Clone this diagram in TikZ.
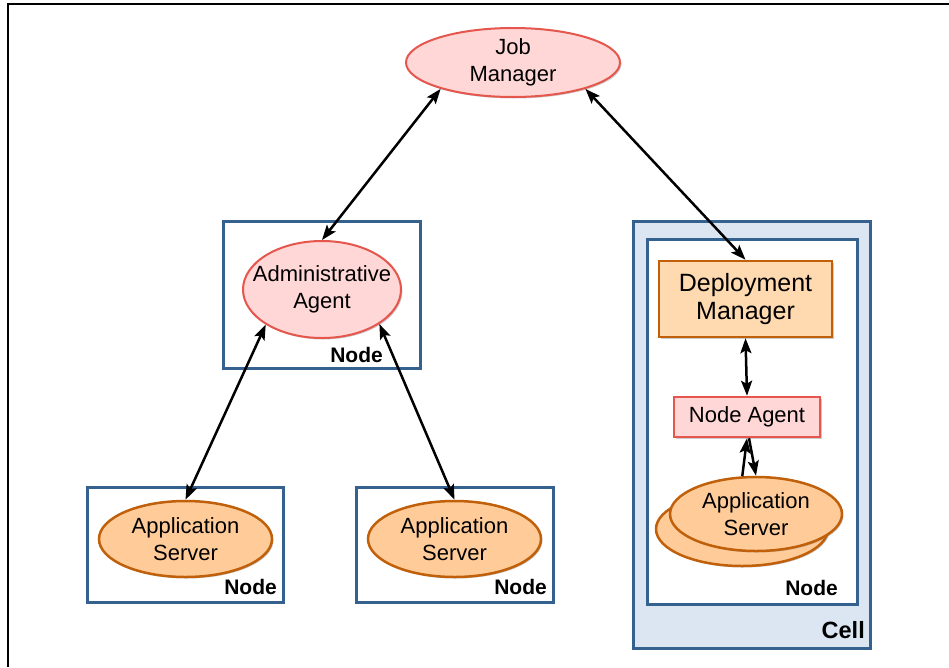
\documentclass[tikz,border=0pt]{standalone}
\usepackage{fontspec}
\setmainfont{Liberation Sans}
\usetikzlibrary{arrows.meta,shadows,shapes.geometric}
\definecolor{pinkfill}{HTML}{FFD7D7}
\definecolor{redline}{HTML}{E5564C}
\definecolor{orangefill}{HTML}{FFCC99}
\definecolor{dmfill}{HTML}{FFD9B0}
\definecolor{orangeline}{HTML}{C0600A}
\definecolor{blueline}{HTML}{35618F}
\definecolor{cellfill}{HTML}{DCE6F2}
\tikzset{
  shad/.style={drop shadow={shadow xshift=1.5pt,shadow yshift=-1.5pt,opacity=0.4}},
  nodebox/.style={draw=blueline,line width=3pt,fill=white,rectangle,inner sep=0pt,shad},
  cellbox/.style={draw=blueline,line width=3pt,fill=cellfill,rectangle,inner sep=0pt,shad},
  pinkell/.style={ellipse,draw=redline,line width=2pt,fill=pinkfill,inner sep=0pt,shad},
  orell/.style={ellipse,draw=orangeline,line width=2.5pt,fill=orangefill,inner sep=0pt,shad},
  txt/.style={align=center,font=\fontsize{22}{26.5}\selectfont,inner sep=0pt},
  nodelbl/.style={font=\fontsize{21}{24}\selectfont\bfseries,inner sep=0pt,anchor=east},
  tip/.tip={Stealth[length=15pt,width=11pt,inset=3pt]},
  biarrow/.style={line width=2.5pt,tip-tip},
  onearrow/.style={line width=2.5pt,-tip},
}
\begin{document}
\begin{tikzpicture}[x=1pt,y=-1pt]
\useasboundingbox (0,0) rectangle (949,667);
\fill[white] (0,0) rectangle (949,667);
% frame
\draw[line width=1.5pt] (949,4) -- (8,4) -- (8,667);

% boxes
\node[nodebox,minimum width=197pt,minimum height=147pt] (nbadmin) at (321.5,294.5) {};
\node[nodebox,minimum width=196pt,minimum height=115pt] (nbleft) at (185,544.5) {};
\node[nodebox,minimum width=197pt,minimum height=115pt] (nbmid) at (454.5,544.5) {};
\node[cellbox,minimum width=237pt,minimum height=427pt] (cell) at (751.5,434.5) {};
\node[nodebox,minimum width=210pt,minimum height=365pt] (nbcell) at (752,421.5) {};

% labels
\node[nodelbl] (lbladmin) at (383,355) {Node};
\node[nodelbl] (lblleft) at (277,587) {Node};
\node[nodelbl] (lblmid) at (547,587) {Node};
\node[nodelbl] (lblcellnode) at (838,588) {Node};
\node[nodelbl,font=\fontsize{23.5}{26}\selectfont\bfseries] (lblcell) at (865,630) {Cell};

% main shapes
\node[pinkell,minimum width=214pt,minimum height=69pt,
  label={[txt]center:Job\\Manager}] (jm) at (513,62.5) {};
\node[pinkell,minimum width=158pt,minimum height=97pt,
  label={[txt]center:Administrative\\Agent}] (admin) at (322,289.5) {};
\node[orell,minimum width=173pt,minimum height=76pt,
  label={[txt]center:Application\\Server}] (as1) at (185.5,539) {};
\node[orell,minimum width=173pt,minimum height=76pt,
  label={[txt]center:Application\\Server}] (as2) at (454.5,539) {};
\node[rectangle,draw=orangeline,line width=2.5pt,fill=dmfill,inner sep=0pt,shad,
  minimum width=173pt,minimum height=76pt,
  align=center,font=\fontsize{25}{27.5}\selectfont] (dm) at (745.5,299) {Deployment\\Manager};
\node[rectangle,draw=redline,line width=2.5pt,fill=pinkfill,inner sep=0pt,shad,
  minimum width=146pt,minimum height=40pt,font=\fontsize{22}{26}\selectfont] (na) at (747,417) {Node Agent};
\node[orell,minimum width=172pt,minimum height=74pt] (as3back) at (742,529) {};
\node[orell,minimum width=172pt,minimum height=74pt,
  label={[txt]center:Application\\Server}] (as3) at (756,514) {};

% connectors
\draw[biarrow] (jm.200) -- (admin.north);
\draw[biarrow] (jm.340) -- (dm.north);
\draw[biarrow] (admin.212) -- (as1.north);
\draw[biarrow] (admin.329) -- (as2.north);
\draw[biarrow] (dm.south) -- (na.north);
\draw[onearrow] (as3.110) -- (na.south);
\draw[onearrow] ([xshift=2pt]na.south) -- (as3.north);
\end{tikzpicture}
\end{document}
